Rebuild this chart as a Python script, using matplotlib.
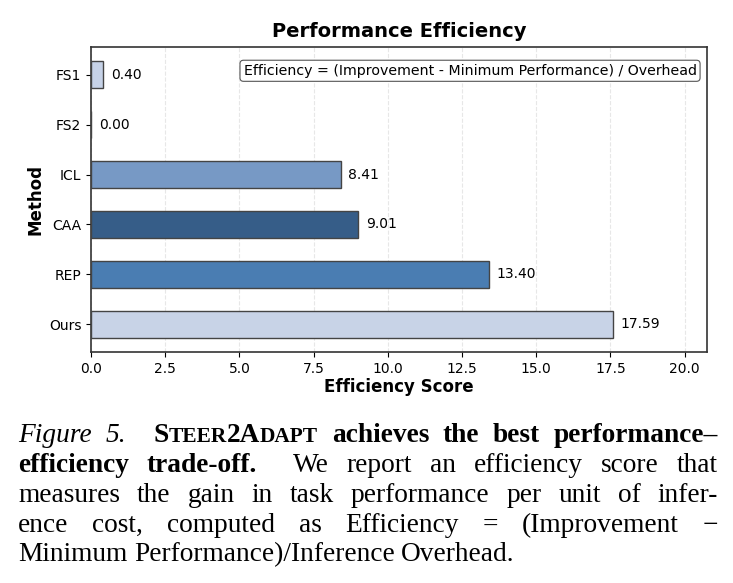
import matplotlib
matplotlib.use("Agg")
from matplotlib import pyplot as plt

methods = ['FS1', 'FS2', 'ICL', 'CAA', 'REP', 'Ours']
scores = [0.40, 0.00, 8.41, 9.01, 13.40, 17.59]
bar_colors = ['#c6d2e7', '#c6d2e7', '#7799c5', '#365d88', '#4a7db2', '#c8d3e7']

W, H = 733, 583
fig = plt.figure(figsize=(W / 100, H / 100), dpi=100)
ax = fig.add_axes([91 / W, 1 - 352 / H, (707 - 91) / W, (352 - 47) / H])

ypos = list(range(len(methods)))
ax.barh(ypos, scores, height=0.55, color=bar_colors, edgecolor='#444444',
        linewidth=1.0, zorder=3)
ax.set_yticks(ypos)
ax.set_yticklabels(methods, fontsize=10)
ax.invert_yaxis()
ax.set_xlim(0, max(scores) * 1.18)
ax.tick_params(axis='x', labelsize=10)

for y, v in zip(ypos, scores):
    ax.text(v + max(scores) * 0.015, y, f'{v:.2f}', va='center', ha='left',
            fontsize=10, zorder=4)

ax.grid(axis='x', linestyle='--', alpha=0.3, zorder=0)
for s in ax.spines.values():
    s.set_color('#333333')
    s.set_linewidth(1.2)

ax.set_title('Performance Efficiency', fontsize=14, fontweight='bold', pad=7)
ax.set_xlabel('Efficiency Score', fontsize=12, fontweight='bold', labelpad=2)
ax.set_ylabel('Method', fontsize=12, fontweight='bold', labelpad=3)
ax.text(0.983, 0.945, 'Efficiency = (Improvement - Minimum Performance) / Overhead',
        transform=ax.transAxes, ha='right', va='top', fontsize=10.2,
        bbox=dict(boxstyle='round,pad=0.25', facecolor='white',
                  edgecolor='#555555', linewidth=0.8), zorder=5)

# ---- caption (justified, drawn word by word) ----
serif = ['Liberation Serif', 'DejaVu Serif']
FS = 19.7
renderer = fig.canvas.get_renderer()
X0, X1 = 18, 718


def piece(txt, size=FS, weight='normal', style='normal'):
    return (txt, dict(fontsize=size, fontweight=weight, fontstyle=style))


def draw_line(words, base_y, justify=True, wide=()):
    objs = []
    widths = []
    for w in words:
        row = []
        tot = 0
        for txt, kw in w:
            t = fig.text(0, 1 - base_y / H, txt, family=serif, va='baseline',
                         ha='left', **kw)
            bw = t.get_window_extent(renderer).width
            row.append((t, bw))
            tot += bw
        objs.append(row)
        widths.append(tot)
    n = len(words)
    weights = [2.0 if i in wide else 1.0 for i in range(n - 1)]
    if justify and n > 1:
        gap = (X1 - X0 - sum(widths)) / sum(weights)
    else:
        gap = 6.5
    x = X0
    for i, row in enumerate(objs):
        for t, bw in row:
            t.set_x(x / W)
            x += bw
        if i < n - 1:
            x += gap * weights[i]


def plain(s, **kw):
    return [[piece(w, **kw)] for w in s.split()]


sc = FS * 0.78
line1 = ([[piece('Figure', style='italic')], [piece('5.', style='italic')]] +
         [[piece('S', weight='bold'), piece('TEER', size=sc, weight='bold'),
           piece('2A', weight='bold'), piece('DAPT', size=sc, weight='bold')]] +
         plain('achieves the best performance–', weight='bold'))
draw_line(line1, 442, wide=(1,))

line2 = plain('efficiency trade-off.', weight='bold') + \
    plain('We report an efficiency score that')
draw_line(line2, 472, wide=(1,))

draw_line(plain('measures the gain in task performance per unit of infer-'), 502)
draw_line(plain('ence cost, computed as Efficiency = (Improvement −'), 532)
draw_line(plain('Minimum Performance)/Inference Overhead.'), 561, justify=False)

fig.savefig('out.png', dpi=100)
